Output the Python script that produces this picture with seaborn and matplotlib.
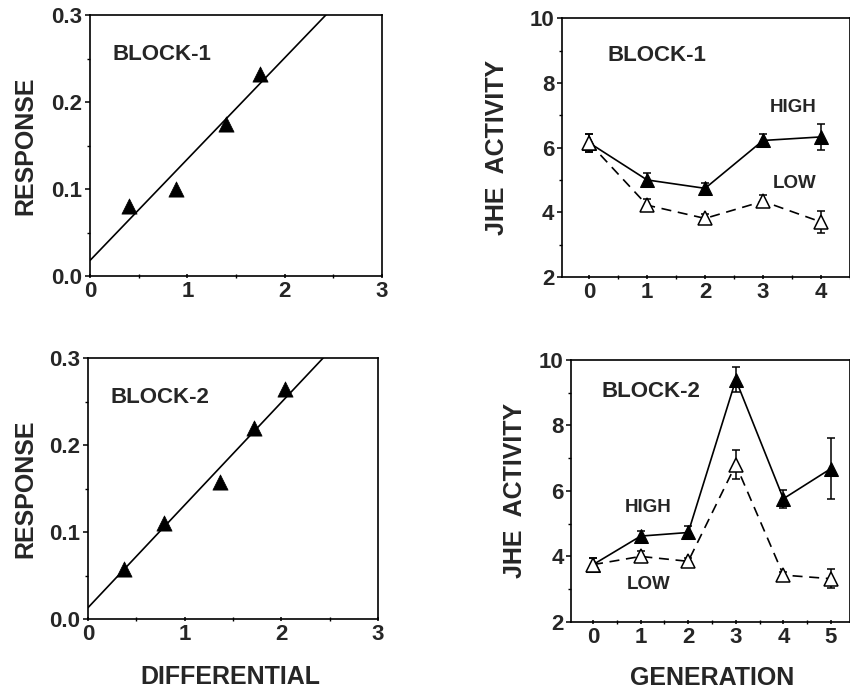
import numpy as np
import pandas as pd
import seaborn as sns
import matplotlib.pyplot as plt
from matplotlib.ticker import MultipleLocator

# selection response vs differential
diff_b1 = [0.40, 0.88, 1.40, 1.75]
resp_b1 = [0.080, 0.100, 0.175, 0.232]
fit_b1 = (0.018, 0.1165)   # intercept, slope

diff_b2 = [0.37, 0.79, 1.37, 1.72, 2.04]
resp_b2 = [0.058, 0.110, 0.158, 0.220, 0.265]
fit_b2 = (0.013, 0.118)

# JHE activity by generation
gen_b1 = [0, 1, 2, 3, 4]
high_b1 = [6.15, 5.00, 4.74, 6.22, 6.33]
high_b1_err = [0.28, 0.20, 0.17, 0.20, 0.40]
low_b1 = [6.15, 4.22, 3.81, 4.34, 3.70]
low_b1_err = [0.28, 0.18, 0.15, 0.19, 0.33]

gen_b2 = [0, 1, 2, 3, 4, 5]
high_b2 = [3.75, 4.62, 4.73, 9.39, 5.76, 6.68]
high_b2_err = [0.20, 0.16, 0.20, 0.38, 0.27, 0.93]
low_b2 = [3.75, 4.00, 3.85, 6.80, 3.43, 3.32]
low_b2_err = [0.20, 0.18, 0.10, 0.45, 0.10, 0.29]

sns.set_theme(style="ticks")
plt.rcParams['font.family'] = ['Liberation Sans', 'DejaVu Sans']
plt.rcParams['font.weight'] = 'bold'
plt.rcParams['axes.labelweight'] = 'bold'

fig = plt.figure(figsize=(8.5, 6.9), dpi=100)
ax_tl = fig.add_axes([0.106, 0.600, 0.3435, 0.378])
ax_tr = fig.add_axes([0.661, 0.5986, 0.339, 0.375])
ax_bl = fig.add_axes([0.1035, 0.1029, 0.341, 0.378])
ax_br = fig.add_axes([0.672, 0.0986, 0.328, 0.380])

LABEL_SIZE = 18
BLOCK_SIZE = 16
HL_SIZE = 13.5


def style_axes(ax):
    for s in ax.spines.values():
        s.set_visible(True)
        s.set_color("black")
        s.set_linewidth(1.2)
    ax.tick_params(axis="both", which="major", labelsize=16, length=3.5,
                   width=1.1, color="black", pad=2)
    ax.tick_params(axis="both", which="minor", length=2.5, width=1.0, color="black")
    ax.tick_params(axis="x", which="both", direction="inout")
    ax.tick_params(axis="y", which="both", direction="out")


def response_panel(ax, x, y, fit, block):
    df = pd.DataFrame({"diff": x, "resp": y})
    xs = np.array([0.0, 3.0])
    line = pd.DataFrame({"diff": xs, "resp": fit[0] + fit[1] * xs})
    sns.lineplot(data=line, x="diff", y="resp", ax=ax, color="black", linewidth=1.2)
    sns.scatterplot(data=df, x="diff", y="resp", ax=ax, marker="^", s=120,
                    color="black", edgecolor="black", linewidth=0.5, zorder=3)
    ax.set_xlim(0, 3)
    ax.set_ylim(0, 0.3)
    ax.set_xticks([0, 1, 2, 3])
    ax.set_yticks([0.0, 0.1, 0.2, 0.3])
    ax.set_yticklabels(["0.0", "0.1", "0.2", "0.3"])
    ax.xaxis.set_minor_locator(MultipleLocator(0.5))
    ax.yaxis.set_minor_locator(MultipleLocator(0.05))
    ax.set_xlabel("")
    ax.set_ylabel("RESPONSE", fontsize=LABEL_SIZE, fontweight="bold")
    ax.yaxis.set_label_coords(-0.22, 0.5)
    ax.yaxis.label.set_va("center")
    ax.text(0.078, 0.85, block, transform=ax.transAxes, fontsize=BLOCK_SIZE,
            fontweight="bold", va="center", ha="left")
    style_axes(ax)


def jhe_panel(ax, gen, high, high_err, low, low_err):
    df = pd.DataFrame({"gen": gen * 2, "jhe": high + low,
                       "line": ["HIGH"] * len(gen) + ["LOW"] * len(gen)})
    ax.errorbar(gen, high, yerr=high_err, fmt="none", ecolor="black",
                elinewidth=1.1, capsize=3, capthick=1.1, zorder=2)
    ax.errorbar(gen, low, yerr=low_err, fmt="none", ecolor="black",
                elinewidth=1.1, capsize=3, capthick=1.1, zorder=2)
    n_before = len(ax.get_lines())
    sns.lineplot(data=df, x="gen", y="jhe", style="line", ax=ax, color="black",
                 linewidth=1.2, dashes={"HIGH": "", "LOW": (6, 4)},
                 markers={"HIGH": "^", "LOW": "^"}, markersize=10,
                 legend=False, zorder=3)
    high_line, low_line = ax.get_lines()[n_before:n_before + 2]
    high_line.set_markerfacecolor("black")
    high_line.set_markeredgecolor("black")
    # hollow triangles for the LOW line
    low_line.set_markerfacecolor("white")
    low_line.set_markeredgecolor("black")
    low_line.set_markeredgewidth(1.1)
    ax.set_ylim(2, 10)
    ax.set_yticks([2, 4, 6, 8, 10])
    ax.set_xticks(gen)
    ax.xaxis.set_minor_locator(MultipleLocator(0.5))
    ax.yaxis.set_minor_locator(MultipleLocator(1))
    ax.set_xlabel("")
    ax.set_ylabel("JHE  ACTIVITY", fontsize=LABEL_SIZE, fontweight="bold")
    ax.yaxis.label.set_va("center")
    style_axes(ax)


response_panel(ax_tl, diff_b1, resp_b1, fit_b1, "BLOCK-1")
response_panel(ax_bl, diff_b2, resp_b2, fit_b2, "BLOCK-2")
ax_bl.set_xlabel("DIFFERENTIAL", fontsize=LABEL_SIZE, fontweight="bold")
ax_bl.xaxis.set_label_coords(0.49, -0.222)
ax_bl.xaxis.label.set_va("center")
ax_bl.yaxis.set_label_coords(-0.217, 0.5)

jhe_panel(ax_tr, gen_b1, high_b1, high_b1_err, low_b1, low_b1_err)
ax_tr.set_xlim(-0.47, 4.5)
ax_tr.yaxis.set_label_coords(-0.226, 0.5)
ax_tr.text(0.16, 0.857, "BLOCK-1", transform=ax_tr.transAxes, fontsize=BLOCK_SIZE,
           fontweight="bold", va="center", ha="left")
ax_tr.text(3.52, 7.25, "HIGH", fontsize=HL_SIZE, fontweight="bold", ha="center", va="center")
ax_tr.text(3.55, 4.88, "LOW", fontsize=HL_SIZE, fontweight="bold", ha="center", va="center")

jhe_panel(ax_br, gen_b2, high_b2, high_b2_err, low_b2, low_b2_err)
ax_br.set_xlim(-0.46, 5.4)
ax_br.yaxis.set_label_coords(-0.2, 0.5)
ax_br.text(0.107, 0.878, "BLOCK-2", transform=ax_br.transAxes, fontsize=BLOCK_SIZE,
           fontweight="bold", va="center", ha="left")
ax_br.text(1.16, 5.48, "HIGH", fontsize=HL_SIZE, fontweight="bold", ha="center", va="center")
ax_br.text(1.16, 3.13, "LOW", fontsize=HL_SIZE, fontweight="bold", ha="center", va="center")
ax_br.set_xlabel("GENERATION", fontsize=LABEL_SIZE, fontweight="bold")
ax_br.xaxis.set_label_coords(0.505, -0.214)
ax_br.xaxis.label.set_va("center")

# make sure every tick label is bold
fig.canvas.draw()
for ax in (ax_tl, ax_tr, ax_bl, ax_br):
    for lab in ax.get_xticklabels() + ax.get_yticklabels():
        lab.set_fontweight("bold")

fig.savefig("out.png", dpi=100, facecolor="white")
